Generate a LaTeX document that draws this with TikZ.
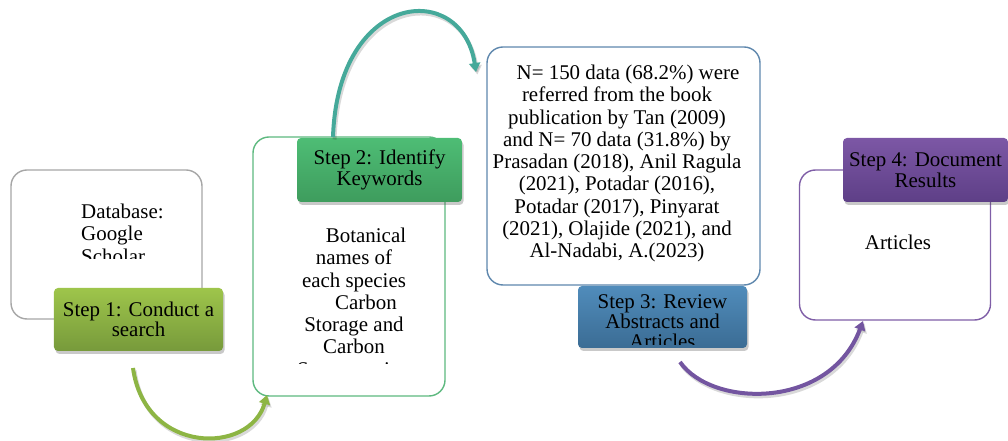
\documentclass[tikz,border=0pt]{standalone}
\usepackage{fontspec}
\setmainfont{Liberation Serif}
\usetikzlibrary{arrows.meta,shadows}
\newcommand{\bodyfs}{\fontsize{21}{22.3}\selectfont}
\newcommand{\labfs}{\fontsize{21}{20.5}\selectfont}
\definecolor{grayline}{HTML}{A6A6A6}
\definecolor{greenline}{HTML}{5DB97F}
\definecolor{blueline}{HTML}{5E87AD}
\definecolor{purpline}{HTML}{7F5EA7}
\definecolor{s1top}{HTML}{9EC54B}
\definecolor{s1bot}{HTML}{779A3B}
\definecolor{s2top}{HTML}{4EBD75}
\definecolor{s2bot}{HTML}{3E9C5D}
\definecolor{s3top}{HTML}{508CBB}
\definecolor{s3bot}{HTML}{3B6C94}
\definecolor{s4top}{HTML}{7C57A5}
\definecolor{s4bot}{HTML}{5E3F87}
\definecolor{arrG}{HTML}{8DB544}
\definecolor{arrT}{HTML}{45A99A}
\definecolor{arrP}{HTML}{7355A0}
\begin{document}
\begin{tikzpicture}[x=1bp,y=-1bp,
  outerbox/.style={draw=#1, line width=1.4bp, rounded corners=16bp, fill=white, inner sep=0},
  steplabel/.style={rounded corners=4bp, inner sep=0, align=center, font=\labfs,
    drop shadow={shadow xshift=1.5bp, shadow yshift=-3bp, opacity=0.3, fill=black!70}},
  boxtext/.style={inner sep=0, align=center, font=\bodyfs},
  flowarrow/.style={line width=4bp, draw=#1, -{Triangle[length=9bp,width=11bp]},
    preaction={draw=black, opacity=0.15, line width=4bp, transform canvas={xshift=1.5bp,yshift=-2.5bp}}}
]
\useasboundingbox (0,0) rectangle (1008,441);

% outer boxes
\node[outerbox=grayline, minimum width=191bp, minimum height=149bp] (b1) at (106.5,244.5) {};
\node[outerbox=greenline, minimum width=192bp, minimum height=259bp] (b2) at (349,266.5) {};
\node[outerbox=blueline, minimum width=273bp, minimum height=238bp] (b3) at (623.5,166) {};
\node[outerbox=purpline, minimum width=191bp, minimum height=150bp] (b4) at (895,245) {};

% box texts
\begin{scope}
  \clip (11,170) rectangle (202,259);
  \node[boxtext, align=left, anchor=north west] (t1) at (81,204) {Database:\\Google\\Scholar};
\end{scope}
\begin{scope}
  \clip (254,205) rectangle (445,364);
  \node[boxtext, anchor=north] (t2) at (354,228) {\hspace*{24bp}Botanical\\names of\\each species\\\hspace*{24bp}Carbon\\Storage and\\Carbon\\Sequestration};
\end{scope}
\node[boxtext, anchor=north] (t3) at (617,65) {\hspace*{22bp}N= 150 data (68.2\%) were\\referred from the book\\publication by Tan (2009)\\and N= 70 data (31.8\%) by\\Prasadan (2018), Anil Ragula\\(2021), Potadar (2016),\\Potadar (2017), Pinyarat\\(2021), Olajide (2021), and\\Al-Nadabi, A.(2023)};
\node[boxtext, anchor=base] (t4) at (898,250) {Articles};

% step labels
\node[steplabel, top color=s1top, bottom color=s1bot, minimum width=169bp, minimum height=63bp] (s1) at (138.5,319.5) {Step 1: Conduct a\\search};
\node[steplabel, top color=s2top, bottom color=s2bot, minimum width=165bp, minimum height=64bp] (s2) at (379.5,170) {Step 2: Identify\\Keywords};
\node[steplabel, top color=s3top, bottom color=s3bot, minimum width=169bp, minimum height=62bp] (s3) at (662.5,317) {};
\begin{scope}
  \clip (579,286) rectangle (747,345);
  \node[boxtext, font=\labfs, anchor=north] (s3t) at (662.5,294) {Step 3: Review\\Abstracts and\\Articles};
\end{scope}
\node[steplabel, top color=s4top, bottom color=s4bot, minimum width=165bp, minimum height=64bp] (s4) at (925.5,170) {Step 4: Document\\Results};

% arrows
\coordinate (g1) at (133,368);
\coordinate (g2) at (267,395);
\coordinate (c1) at (333,137);
\coordinate (c2) at (476,72);
\coordinate (p1) at (680,362);
\coordinate (p2) at (863,321);
\draw[flowarrow=arrG] (g1) .. controls (145,455) and (250,455) .. (g2);
\draw[flowarrow=arrT] (c1) .. controls (338,-10) and (462,-20) .. (c2);
\draw[flowarrow=arrP] (p1) .. controls (712,408) and (830,410) .. (p2);
\end{tikzpicture}
\end{document}
